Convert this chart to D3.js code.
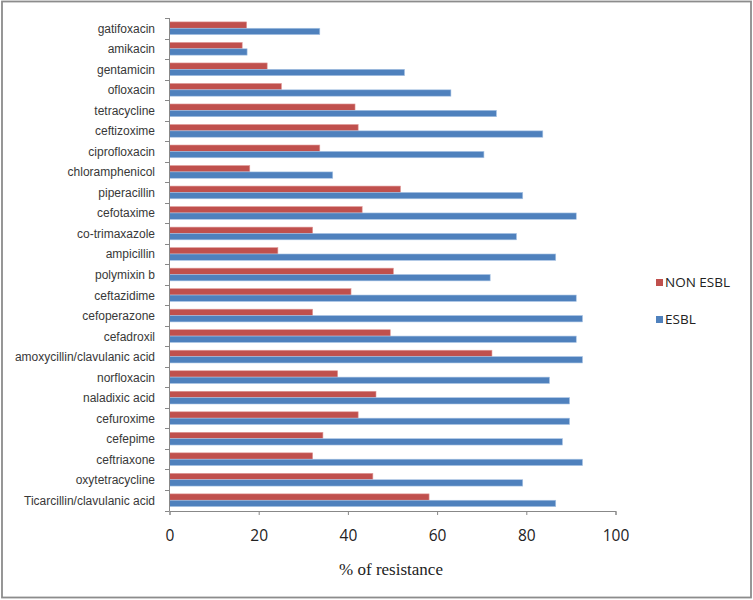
<!DOCTYPE html>
<html><head><meta charset="utf-8">
<script src="https://cdn.jsdelivr.net/npm/d3@7"></script>
<style>body{margin:0;background:#fff}</style>
</head><body>
<svg id="c" width="753" height="600"></svg>
<script>
const categories = ["gatifoxacin","amikacin","gentamicin","ofloxacin","tetracycline","ceftizoxime","ciprofloxacin","chloramphenicol","piperacillin","cefotaxime","co-trimaxazole","ampicillin","polymixin b","ceftazidime","cefoperazone","cefadroxil","amoxycillin/clavulanic acid","norfloxacin","naladixic acid","cefuroxime","cefepime","ceftriaxone","oxytetracycline","Ticarcillin/clavulanic acid"];
const nonEsbl = [17.3,16.3,21.9,25.1,41.6,42.3,33.7,18.0,51.8,43.2,32.1,24.3,50.2,40.7,32.1,49.5,72.3,37.7,46.3,42.3,34.4,32.1,45.6,58.2];
const esbl = [33.7,17.4,52.7,63.1,73.3,83.7,70.5,36.6,79.2,91.2,77.8,86.6,71.9,91.2,92.6,91.2,92.6,85.2,89.7,89.7,88.1,92.6,79.2,86.6];
const xTicks = [0,20,40,60,80,100];
const seriesNames = ["NON ESBL","ESBL"];
const colors = ["#C0504D","#4F81BD"];

(function(){
const svg = d3.select("#c");
svg.append("rect").attr("x",2).attr("y",1.5).attr("width",749).attr("height",596)
  .attr("fill","#fff").attr("stroke","#8c8c8c").attr("stroke-width",1.8);

const pl = 169.5, pr = 615.5, pt = 18, pb = 510.5;
const x = d3.scaleLinear().domain([0,100]).range([pl,pr]);
const y = d3.scaleBand().domain(categories).range([pt,pb]).paddingInner(0.38).paddingOuter(0.19);
const ys = d3.scaleBand().domain([0,1]).range([0,y.bandwidth()]);

const g = svg.append("g");
[nonEsbl, esbl].forEach((vals,si)=>{
  g.selectAll(null).data(categories).enter().append("rect")
    .attr("x", x(0))
    .attr("y", (d)=>y(d)+ys(si))
    .attr("width", (d,i)=>x(vals[i])-x(0))
    .attr("height", ys.bandwidth())
    .attr("fill", colors[si])
    .attr("stroke", si===1 ? "#a9c4e4" : "#e09a98")
    .attr("stroke-width", 0.6);
});

const yAxisG = svg.append("g");
yAxisG.append("line").attr("x1",pl).attr("x2",pl).attr("y1",pt).attr("y2",pb+0.5).attr("stroke","#888");
const tickYs = d3.range(categories.length+1).map(i=>pt + i*(pb-pt)/categories.length);
yAxisG.selectAll(null).data(tickYs).enter().append("line")
  .attr("x1",pl-4.5).attr("x2",pl).attr("y1",d=>Math.round(d)+0.5).attr("y2",d=>Math.round(d)+0.5).attr("stroke","#888");
yAxisG.selectAll(null).data(categories).enter().append("text")
  .attr("x",155).attr("y",d=>y(d)+y.bandwidth()/2+4.5)
  .attr("text-anchor","end").attr("font-family","Liberation Sans, Arial, sans-serif")
  .attr("font-size",12).attr("fill","#383838").text(d=>d);

const xAxis = d3.axisBottom(x).tickValues(xTicks).tickSize(4).tickPadding(10).tickFormat(d3.format("d"));
const xg = svg.append("g").attr("transform",`translate(0,${pb+0.5})`).call(xAxis);
xg.select(".domain").attr("stroke","#888");
xg.selectAll(".tick line").attr("stroke","#888");
xg.selectAll(".tick text").attr("font-family","Open Sans, Liberation Sans, sans-serif").attr("font-size",15.5).attr("fill","#222")
  .attr("dy",null).attr("y",30);

svg.append("text").attr("x",391).attr("y",575).attr("text-anchor","middle")
  .attr("font-family","Liberation Serif, Times New Roman, serif").attr("font-size",17).attr("fill","#222")
  .text("% of resistance");

const lg = svg.append("g");
seriesNames.forEach((n,i)=>{
  const yy = 286 + i*37;
  lg.append("rect").attr("x",656).attr("y",yy-7).attr("width",7).attr("height",7).attr("fill",colors[i]);
  lg.append("text").attr("x",665).attr("y",yy+1).attr("font-family","Open Sans, Liberation Sans, sans-serif")
    .attr("font-size",13.5).attr("fill","#222").text(n);
});
})();
</script>
</body></html>
